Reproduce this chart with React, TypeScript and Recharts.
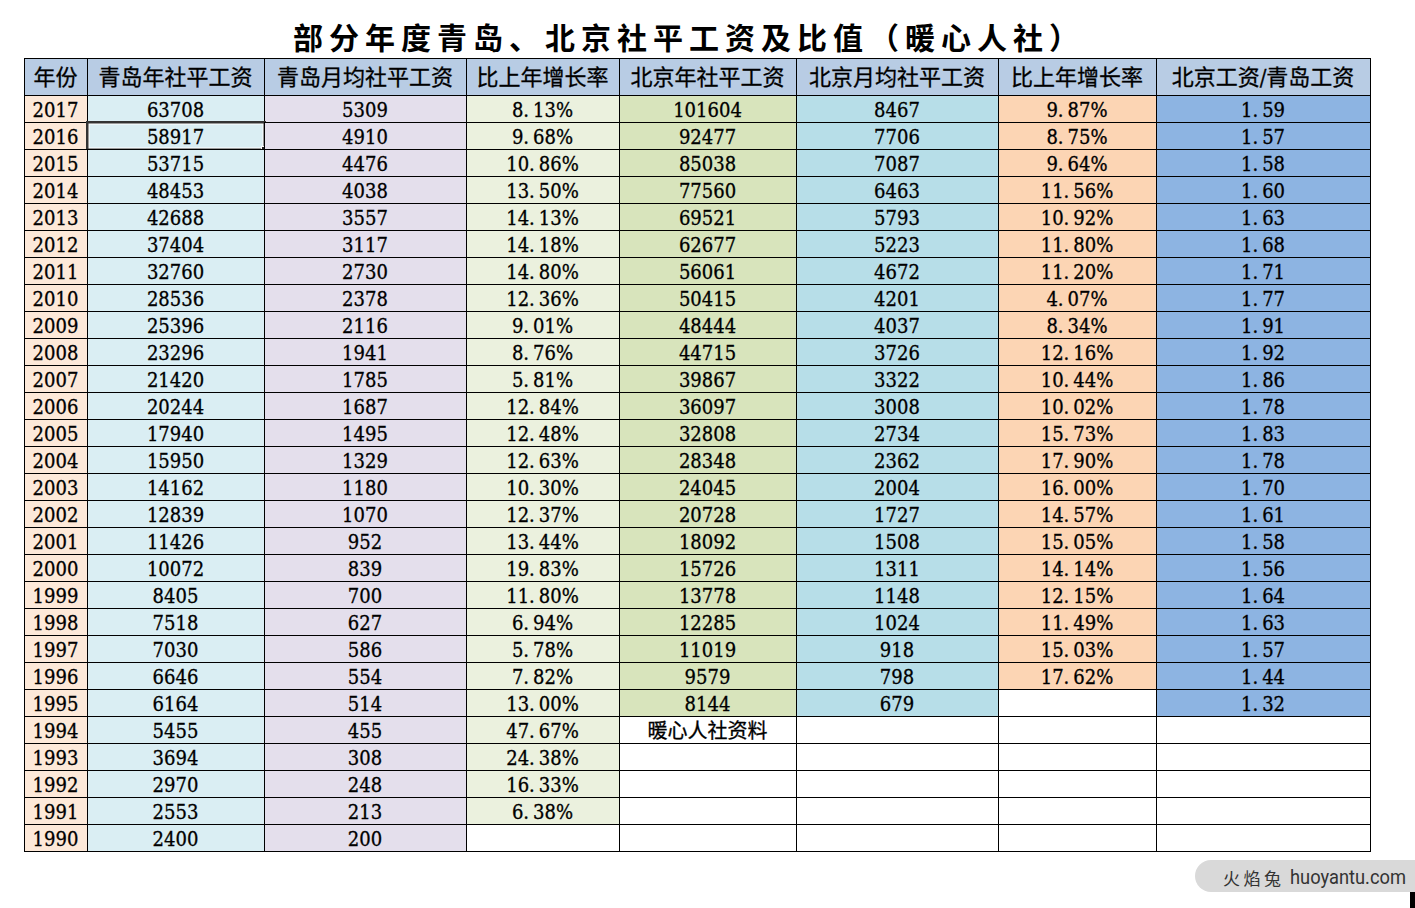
import React from "react"
import { ScatterChart, Scatter, XAxis, YAxis } from "recharts"

const title = "部分年度青岛、北京社平工资及比值（暖心人社）"
const headers = [
  "年份",
  "青岛年社平工资",
  "青岛月均社平工资",
  "比上年增长率",
  "北京年社平工资",
  "北京月均社平工资",
  "比上年增长率",
  "北京工资/青岛工资",
]
const years = [
  2017, 2016, 2015, 2014, 2013, 2012, 2011, 2010, 2009, 2008, 2007, 2006, 2005, 2004,
  2003, 2002, 2001, 2000, 1999, 1998, 1997, 1996, 1995, 1994, 1993, 1992, 1991, 1990,
]
const qdAnnual = [
  63708, 58917, 53715, 48453, 42688, 37404, 32760, 28536, 25396, 23296, 21420, 20244,
  17940, 15950, 14162, 12839, 11426, 10072, 8405, 7518, 7030, 6646, 6164, 5455, 3694,
  2970, 2553, 2400,
]
const qdMonthly = [
  5309, 4910, 4476, 4038, 3557, 3117, 2730, 2378, 2116, 1941, 1785, 1687, 1495, 1329,
  1180, 1070, 952, 839, 700, 627, 586, 554, 514, 455, 308, 248, 213, 200,
]
const qdGrowth = [
  "8.13%", "9.68%", "10.86%", "13.50%", "14.13%", "14.18%", "14.80%", "12.36%", "9.01%",
  "8.76%", "5.81%", "12.84%", "12.48%", "12.63%", "10.30%", "12.37%", "13.44%", "19.83%",
  "11.80%", "6.94%", "5.78%", "7.82%", "13.00%", "47.67%", "24.38%", "16.33%", "6.38%",
]
const bjAnnual = [
  101604, 92477, 85038, 77560, 69521, 62677, 56061, 50415, 48444, 44715, 39867, 36097,
  32808, 28348, 24045, 20728, 18092, 15726, 13778, 12285, 11019, 9579, 8144,
]
const bjMonthly = [
  8467, 7706, 7087, 6463, 5793, 5223, 4672, 4201, 4037, 3726, 3322, 3008, 2734, 2362,
  2004, 1727, 1508, 1311, 1148, 1024, 918, 798, 679,
]
const bjGrowth = [
  "9.87%", "8.75%", "9.64%", "11.56%", "10.92%", "11.80%", "11.20%", "4.07%", "8.34%",
  "12.16%", "10.44%", "10.02%", "15.73%", "17.90%", "16.00%", "14.57%", "15.05%", "14.14%",
  "12.15%", "11.49%", "15.03%", "17.62%",
]
const ratio = [
  "1.59", "1.57", "1.58", "1.60", "1.63", "1.68", "1.71", "1.77", "1.91", "1.92", "1.86",
  "1.78", "1.83", "1.78", "1.70", "1.61", "1.58", "1.56", "1.64", "1.63", "1.57", "1.44",
  "1.32",
]
const note = "暖心人社资料"
const noteRow = 23
const noteCol = 4
const watermarkCn = "火焰兔"
const watermarkEn = "huoyantu.com"

// layout (px)
const colWidths = [63, 177, 202, 153, 177, 202, 158, 214]
const headerH = 37
const rowH = 27
const colFills = ["#fde9d9", "#daeef3", "#e4dfec", "#ebf1de", "#d8e4bc", "#b7dee8", "#fcd5b4", "#8db4e2"]
const headerFill = "#b8cce4"
const selected = { row: 1, col: 1 }

const FONT = "'DejaVu Serif Condensed', 'DejaVu Serif', 'Noto Sans CJK SC', serif"
const totalW = colWidths.reduce((a, b) => a + b, 0)
const totalH = headerH + rowH * years.length

const columns: (string | number)[][] = [years, qdAnnual, qdMonthly, qdGrowth, bjAnnual, bjMonthly, bjGrowth, ratio]

const colLeft = colWidths.map((_, i) => colWidths.slice(0, i).reduce((a, b) => a + b, 0))

const cells: any[] = []
headers.forEach((h, c) => {
  cells.push({
    x: colLeft[c] + colWidths[c] / 2,
    y: headerH / 2,
    w: colWidths[c],
    h: headerH,
    text: h,
    fill: headerFill,
    header: true,
  })
})
years.forEach((_, r) => {
  columns.forEach((col, c) => {
    const v = col[r]
    let text = v === undefined ? "" : String(v)
    const fill = v === undefined ? "#ffffff" : colFills[c]
    if (r === noteRow && c === noteCol) text = note
    cells.push({
      x: colLeft[c] + colWidths[c] / 2,
      y: headerH + rowH * r + rowH / 2,
      w: colWidths[c],
      h: rowH,
      text,
      fill,
      header: false,
      sel: r === selected.row && c === selected.col,
    })
  })
})

function CellText({ text, cx, cy, header }: any) {
  if (!text) return null
  const dot = text.indexOf(".")
  const common = {
    x: cx,
    y: cy + 1,
    textAnchor: "middle" as const,
    dominantBaseline: "central" as const,
    fontFamily: FONT,
    fontSize: header ? 22 : 20,
    fill: "#000",
    stroke: "#000",
    strokeWidth: 0.3,
  }
  if (dot >= 0) {
    return (
      <text {...common}>
        <tspan>{text.slice(0, dot + 1)}</tspan>
        <tspan dx={4}>{text.slice(dot + 1)}</tspan>
      </text>
    )
  }
  return <text {...common}>{text}</text>
}

function TableCell(props: any) {
  const { cx, cy, payload } = props
  if (cx == null || cy == null) return null
  const left = Math.round(cx - payload.w / 2) + 0.5
  const top = Math.round(cy - payload.h / 2) + 0.5
  return (
    <g>
      <rect x={left} y={top} width={payload.w} height={payload.h} fill={payload.fill} stroke="#000" strokeWidth={1} />
      <CellText text={payload.text} cx={cx} cy={cy} header={payload.header} />
      {payload.sel && (
        <g>
          <rect x={left} y={top} width={payload.w} height={payload.h} fill="none" stroke="#333" strokeWidth={3} />
          <rect x={left + 1.5} y={top + 1.5} width={payload.w - 3} height={payload.h - 3} fill="none" stroke="#fff" strokeWidth={1} />
          <rect x={left + payload.w - 3} y={top + payload.h - 3} width={6} height={6} fill="#222" stroke="#fff" strokeWidth={1} />
        </g>
      )}
    </g>
  )
}

export default function App() {
  return (
    <div style={{ position: "absolute", left: 0, top: 0, width: 1415, height: 908, background: "#fff" }}>
      <ScatterChart
        width={1415}
        height={908}
        margin={{ top: 58, left: 24, right: 1415 - 24 - totalW - 2, bottom: 908 - 58 - totalH - 2 }}
      >
        <XAxis type="number" dataKey="x" domain={[0, totalW + 2]} allowDataOverflow hide />
        <YAxis type="number" dataKey="y" domain={[0, totalH + 2]} allowDataOverflow reversed hide />
        <text
          x={689}
          y={36}
          textAnchor="middle"
          dominantBaseline="central"
          fontFamily="'Noto Sans CJK SC', sans-serif"
          fontWeight={600}
          fontSize={30}
          letterSpacing={6}
          fill="#000"
        >
          {title}
        </text>
        <Scatter data={cells} shape={TableCell} isAnimationActive={false} />
        <path d="M1211,860 L1415,860 L1415,892 L1211,892 A16,16 0 0 1 1211,860 Z" fill="#d9d9d9" />
        <text
          x={1223}
          y={877}
          dominantBaseline="central"
          fontFamily="'Noto Sans CJK SC', sans-serif"
          fontSize={17}
          textLength={58}
          lengthAdjust="spacing"
          fill="#333"
        >
          {watermarkCn}
        </text>
        <text
          x={1290}
          y={877}
          dominantBaseline="central"
          fontFamily="Roboto, sans-serif"
          fontSize={20}
          textLength={116}
          lengthAdjust="spacingAndGlyphs"
          fill="#333"
        >
          {watermarkEn}
        </text>
        <rect x={1410} y={892} width={5} height={16} fill="#000" />
      </ScatterChart>
    </div>
  )
}
